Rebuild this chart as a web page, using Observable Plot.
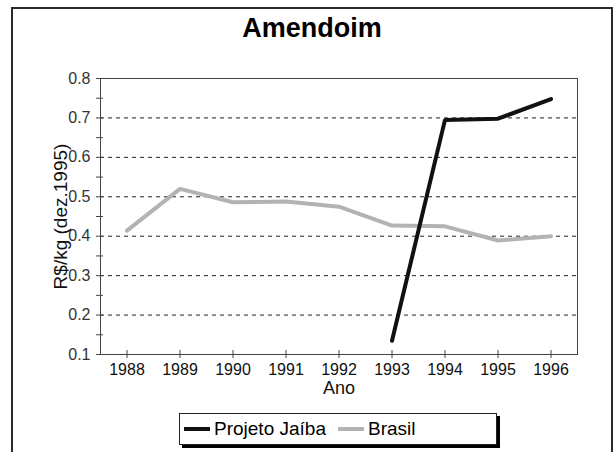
<!DOCTYPE html>
<html>
<head>
<meta charset="utf-8">
<script src="https://cdn.jsdelivr.net/npm/d3@7"></script>
<script src="https://cdn.jsdelivr.net/npm/@observablehq/plot@0.6"></script>
<style>
  body { margin: 0; background: #fff; font-family: "Liberation Sans", Arial, sans-serif; }
  #wrap { position: relative; width: 615px; height: 452px; overflow: hidden; background: #fff; }
  #frame { position: absolute; left: 11px; top: 7px; width: 602px; height: 470px; border: 2px solid #2a2a2a; box-sizing: border-box; }
  #title { position: absolute; left: 12px; width: 600px; top: 13px; text-align: center; font-weight: bold; font-size: 27px; color: #000; }
  #chart { position: absolute; left: 0; top: 60px; }
  #chart svg text { font-family: "Liberation Sans", Arial, sans-serif; }
  #legend { position: absolute; left: 179px; top: 413px; width: 318px; height: 32px; box-sizing: border-box; border: 1px solid #222; background: #fff; box-shadow: 3px 3px 0 #000; display: flex; align-items: center; font-size: 19px; color: #000; }
  .sw { display: inline-block; width: 26px; height: 4px; margin: 0 4px 0 4px; }
</style>
</head>
<body>
<div id="wrap">
  <div id="frame"></div>
  <div id="title">Amendoim</div>
  <div id="chart"></div>
  <div id="legend"></div>
</div>
<script>
const title = "Amendoim";
const yLabel = "R$/kg (dez.1995)";
const xLabel = "Ano";
const years = [1988, 1989, 1990, 1991, 1992, 1993, 1994, 1995, 1996];
const brasil = [0.414, 0.52, 0.486, 0.488, 0.475, 0.427, 0.425, 0.389, 0.40];
const jaibaYears = [1993, 1994, 1995, 1996];
const jaiba = [0.135, 0.695, 0.698, 0.748];
const yTicks = [0.1, 0.2, 0.3, 0.4, 0.5, 0.6, 0.7, 0.8];
const yMinorTicks = [0.1, 0.15, 0.2, 0.25, 0.3, 0.35, 0.4, 0.45, 0.5, 0.55, 0.6, 0.65, 0.7, 0.75, 0.8];
const gridTicks = [0.2, 0.3, 0.4, 0.5, 0.6, 0.7];
const seriesNames = ["Projeto Jaíba", "Brasil"];
const seriesColors = ["#111111", "#b3b3b3"];

const FONT = '"Liberation Sans", Arial, sans-serif';
const brasilData = years.map((y, i) => ({year: y, value: brasil[i]}));
const jaibaData = jaibaYears.map((y, i) => ({year: y, value: jaiba[i]}));

const chart = Plot.plot({
  width: 615,
  height: 345,
  marginLeft: 100,
  marginRight: 38,
  marginTop: 18,
  marginBottom: 51,
  style: {fontFamily: FONT, fontSize: "16px", color: "#222", background: "transparent", overflow: "visible"},
  x: {domain: [1987.5, 1996.5], axis: null},
  y: {domain: [0.1, 0.8], axis: null},
  marks: [
    Plot.ruleY(gridTicks, {stroke: "#222", strokeDasharray: "4,4", strokeWidth: 1}),
    Plot.frame({stroke: "#444", strokeWidth: 1}),
    Plot.axisY({ticks: yMinorTicks, tickSize: 7, dx: 3, tickFormat: () => "", label: null, stroke: "#444"}),
    Plot.axisY({ticks: yTicks, tickSize: 0, tickPadding: 10, tickFormat: d3.format(".1f"), label: null, fontSize: 16, fontFamily: FONT, fontVariant: "normal", fill: "#333"}),
    Plot.axisX({ticks: years, tickSize: 8, dy: -4, tickFormat: () => "", label: null, stroke: "#444"}),
    Plot.axisX({ticks: years, tickSize: 0, tickPadding: 9, tickFormat: d => String(d), label: null, fontSize: 16, fontFamily: FONT, fontVariant: "normal", fill: "#111"}),
    Plot.line(brasilData, {x: "year", y: "value", stroke: seriesColors[1], strokeWidth: 4, strokeLinejoin: "miter"}),
    Plot.line(jaibaData, {x: "year", y: "value", stroke: seriesColors[0], strokeWidth: 4, strokeLinejoin: "miter"}),
    Plot.text([yLabel], {frameAnchor: "left", textAnchor: "middle", lineAnchor: "middle", rotate: -90, dx: -40, text: d => d, fontSize: 19, fontFamily: FONT, fill: "#111"}),
    Plot.text([xLabel], {frameAnchor: "bottom", textAnchor: "middle", lineAnchor: "middle", dy: 34, text: d => d, fontSize: 18, fontFamily: FONT, fill: "#111"})
  ]
});
document.getElementById("chart").appendChild(chart);
document.getElementById("title").textContent = title;

const legend = document.getElementById("legend");
seriesNames.forEach((name, i) => {
  const sw = document.createElement("span");
  sw.className = "sw";
  sw.style.background = seriesColors[i];
  legend.appendChild(sw);
  const t = document.createElement("span");
  t.textContent = name;
  t.style.marginRight = "8px";
  legend.appendChild(t);
});
</script>
</body>
</html>
